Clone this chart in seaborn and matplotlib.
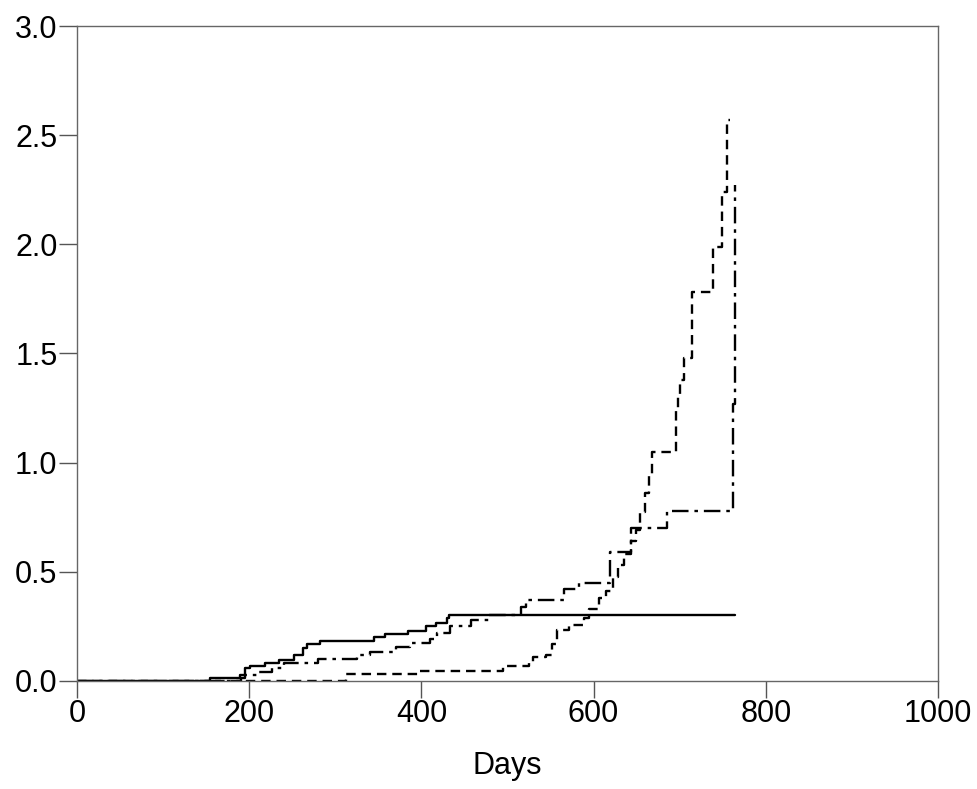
import matplotlib
matplotlib.use("Agg")
import matplotlib.pyplot as plt
import seaborn as sns
import pandas as pd

# step curves (days, cumulative value)
solid_days = [0, 154, 189, 195, 201, 218, 235, 252, 263, 267, 282, 345, 358, 385, 405, 417, 430, 432, 764]
solid_vals = [0, 0.014, 0.027, 0.06, 0.07, 0.08, 0.096, 0.12, 0.15, 0.17, 0.183, 0.20, 0.215, 0.23, 0.25, 0.265, 0.29, 0.30, 0.30]

dashdot_days = [0, 191, 195, 209, 226, 240, 280, 325, 340, 371, 387, 410, 418, 433, 458, 479, 516, 522, 566, 583, 619, 644, 685, 762, 764]
dashdot_vals = [0, 0.014, 0.027, 0.04, 0.06, 0.083, 0.10, 0.12, 0.133, 0.155, 0.174, 0.19, 0.22, 0.25, 0.28, 0.30, 0.34, 0.37, 0.42, 0.45, 0.59, 0.70, 0.78, 1.27, 2.27]

dashed_days = [0, 313, 396, 495, 525, 530, 545, 552, 558, 571, 589, 595, 606, 614, 622, 628, 635, 643, 649, 654, 660, 664, 668, 696, 698, 700, 705, 714, 739, 749, 755, 758]
dashed_vals = [0, 0.03, 0.045, 0.07, 0.085, 0.11, 0.12, 0.17, 0.234, 0.256, 0.29, 0.33, 0.38, 0.41, 0.476, 0.53, 0.58, 0.64, 0.69, 0.775, 0.86, 0.95, 1.05, 1.24, 1.30, 1.38, 1.48, 1.78, 1.99, 2.24, 2.57, 2.57]

x_ticks = [0, 200, 400, 600, 800, 1000]
y_ticks = [0.0, 0.5, 1.0, 1.5, 2.0, 2.5, 3.0]

sns.set_style("white")
plt.rcParams['font.family'] = ['Liberation Sans', 'DejaVu Sans']

fig = plt.figure(figsize=(9.78, 7.89), dpi=100)
ax = fig.add_axes([0.0787, 0.137, 0.8804, 0.830])

curves = [
    (solid_days, solid_vals, "-"),
    (dashdot_days, dashdot_vals, (0, (7, 2.5, 1.5, 2.5))),
    (dashed_days, dashed_vals, (0, (4, 2.5))),
]
for days, vals, ls in curves:
    df = pd.DataFrame({"days": days, "value": vals})
    sns.lineplot(data=df, x="days", y="value", ax=ax, color="black",
                 linewidth=1.7, linestyle=ls, drawstyle="steps-post",
                 estimator=None, sort=False)

ax.set_xlim(0, 1000)
ax.set_ylim(0, 3.0)
ax.set_xticks(x_ticks)
ax.set_xticklabels([str(t) for t in x_ticks])
ax.set_yticks(y_ticks)
ax.set_yticklabels([f"{t:.1f}" for t in y_ticks])
ax.tick_params(axis="both", bottom=True, left=True, direction="out", width=1,
               colors="#555555", labelcolor="black", labelsize=22)
ax.tick_params(axis="x", length=12, pad=1)
ax.tick_params(axis="y", length=13, pad=1)
ax.set_xlabel("Days", fontsize=22, color="black", labelpad=16)
ax.set_ylabel("")

for s in ax.spines.values():
    s.set_color("#666666")
    s.set_linewidth(1)

plt.savefig("out.png", dpi=100)
plt.close()
